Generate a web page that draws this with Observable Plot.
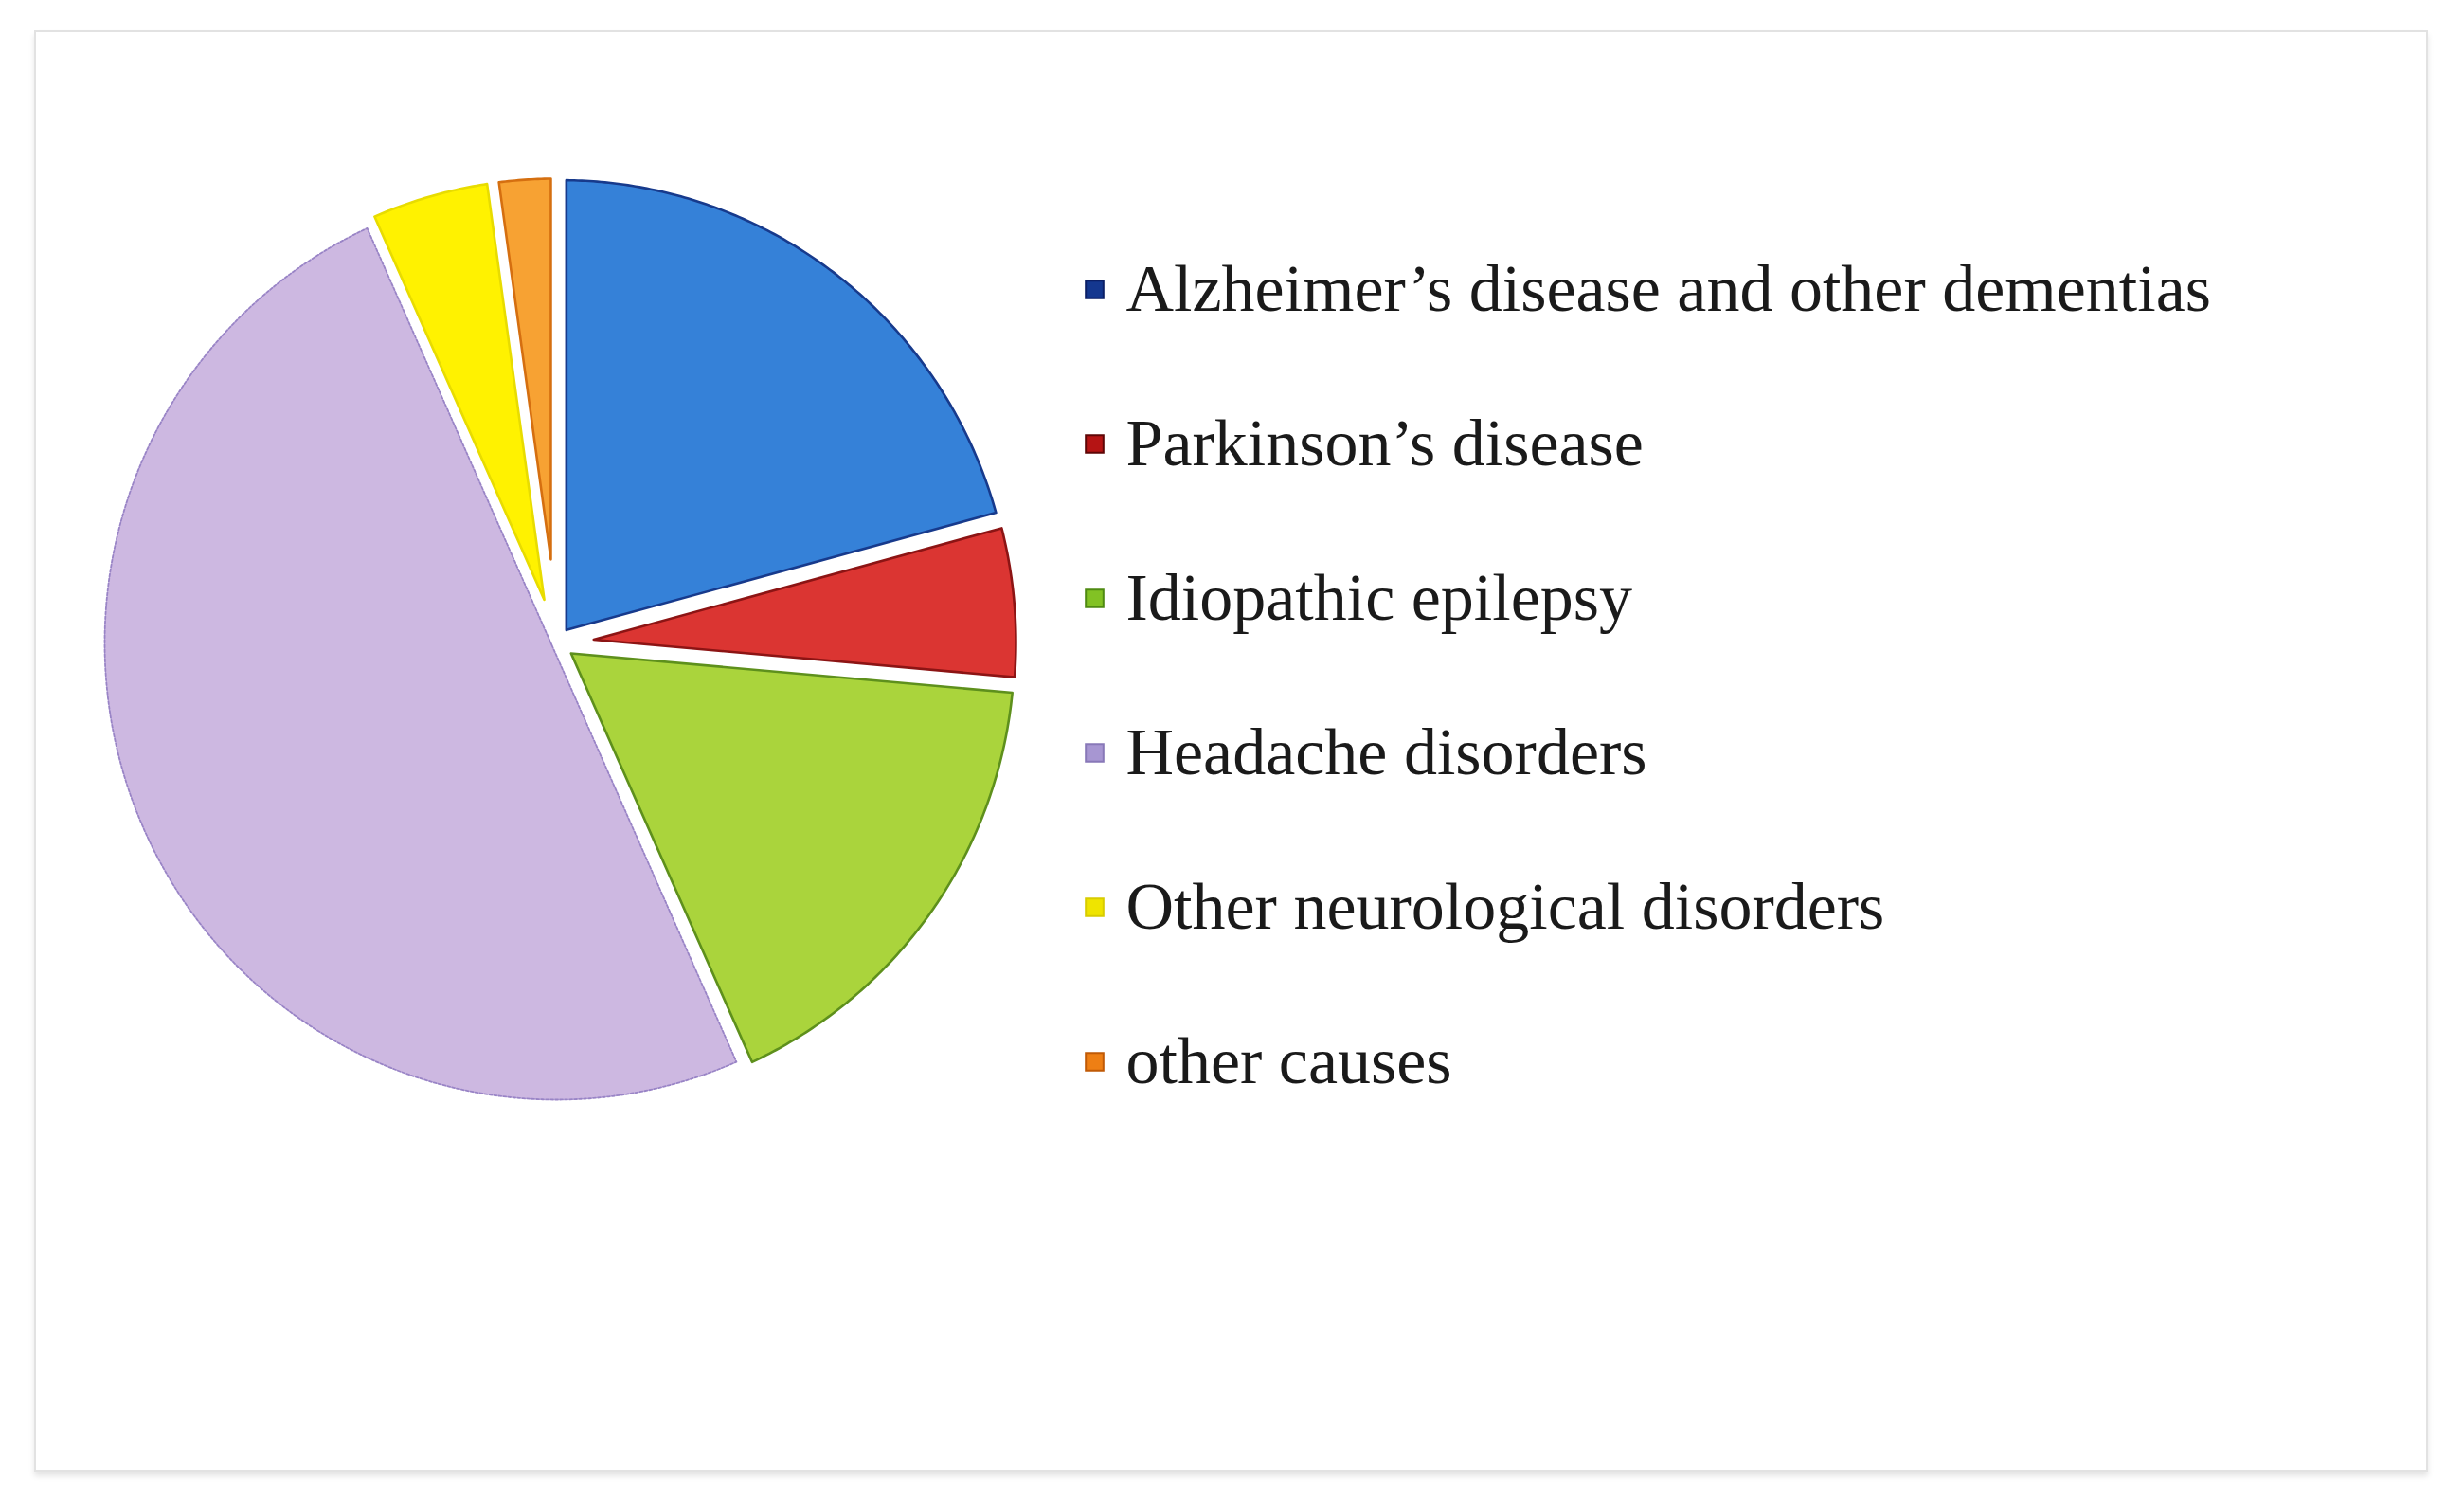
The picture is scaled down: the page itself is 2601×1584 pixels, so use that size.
<!DOCTYPE html>
<html><head><meta charset="utf-8">
<script src="https://cdn.jsdelivr.net/npm/d3@7"></script>
<script src="https://cdn.jsdelivr.net/npm/@observablehq/plot@0.6"></script>
<style>
html,body{margin:0;padding:0;background:#fff;width:2601px;height:1584px;overflow:hidden}
#frame{position:absolute;left:36px;top:32px;width:2523px;height:1517px;border:2px solid #e2e2e2;box-shadow:0 5px 6px rgba(0,0,0,0.10);background:#fff}
#pie{position:absolute;left:37px;top:128px}
#legend{position:absolute;left:1100px;top:200px}
</style></head><body>
<div id="frame"></div><div id="pie"></div><div id="legend"></div>
<script>
const categories = [
  "Alzheimer’s disease and other dementias",
  "Parkinson’s disease",
  "Idiopathic epilepsy",
  "Headache disorders",
  "Other neurological disorders",
  "other causes"
];
const values = [20.8, 5.6, 16.9, 50.0, 4.5, 2.2];
const fillColors = ["#3581d8", "#db3532", "#aad43c", "#cdb8e1", "#fff200", "#f7a233"];
const strokeColors = ["#173a8c", "#8c1414", "#5e901c", "#9984c6", "#e8dc00", "#d56f10"];
const markerFill = ["#14378f", "#b51414", "#82c224", "#a796d2", "#efe400", "#ee7f14"];
const markerStroke = ["#0b1f66", "#5e0606", "#4f8a12", "#8878b8", "#d8cc00", "#c05a06"];
const explode = [8, 8, 8, 0, 8, 8];   // px
const gapHalf = 5.5;                  // px
const unit = 478;                     // px per radius

const arcs = d3.pie().sort(null).value(d => d).startAngle(0).endAngle(2 * Math.PI)(values);

function slicePoints(arc, i) {
  const a0 = arc.startAngle, a1 = arc.endAngle, th = a1 - a0, bis = (a0 + a1) / 2;
  const off = explode[i] / unit, h = gapHalf / unit;
  const ox = off * Math.sin(bis), oy = off * Math.cos(bis);
  const apex = h / Math.sin(th / 2);
  const dl = Math.asin(h);
  const pts = [{x: ox + apex * Math.sin(bis), y: oy + apex * Math.cos(bis)}];
  const N = Math.max(8, Math.ceil((th * 180 / Math.PI) * 2));
  for (let k = 0; k <= N; k++) {
    const a = a0 + dl + (th - 2 * dl) * k / N;
    pts.push({x: ox + Math.sin(a), y: oy + Math.cos(a)});
  }
  return pts;
}

const pieMarks = arcs.map((arc, i) => Plot.line(slicePoints(arc, i), {
  x: "x", y: "y", curve: "linear-closed",
  fill: fillColors[i], stroke: strokeColors[i],
  strokeWidth: i === 3 ? 1.8 : 2.6,
  strokeDasharray: i === 3 ? "3,2" : null
}));

const piePlot = Plot.plot({
  width: 1100, height: 1100,
  marginTop: 0, marginRight: 0, marginBottom: 0, marginLeft: 0,
  x: {domain: [-550 / 477, 550 / 477], axis: null},
  y: {domain: [-550 / 482, 550 / 482], axis: null},
  marks: pieMarks
});
document.getElementById("pie").appendChild(piePlot);

const legendPlot = Plot.plot({
  width: 1460, height: 1030,
  marginTop: 0, marginRight: 0, marginBottom: 0, marginLeft: 0,
  style: {fontFamily: "'Liberation Serif', 'Times New Roman', serif", background: "transparent"},
  y: {type: "point", domain: categories, range: [103, 922], padding: 0, axis: null},
  color: {type: "identity"},
  marks: [
    Plot.dot(categories, {
      y: d => d, frameAnchor: "left", dx: 55, symbol: "square", r: 10.5,
      fill: (d, i) => markerFill[i], stroke: (d, i) => markerStroke[i], strokeWidth: 2
    }),
    Plot.text(categories, {
      y: d => d, text: d => d, frameAnchor: "left", dx: 88,
      textAnchor: "start", lineAnchor: "middle", fontSize: 70, fill: "#1a1a1a"
    })
  ]
});
document.getElementById("legend").appendChild(legendPlot);
</script>
</body></html>
